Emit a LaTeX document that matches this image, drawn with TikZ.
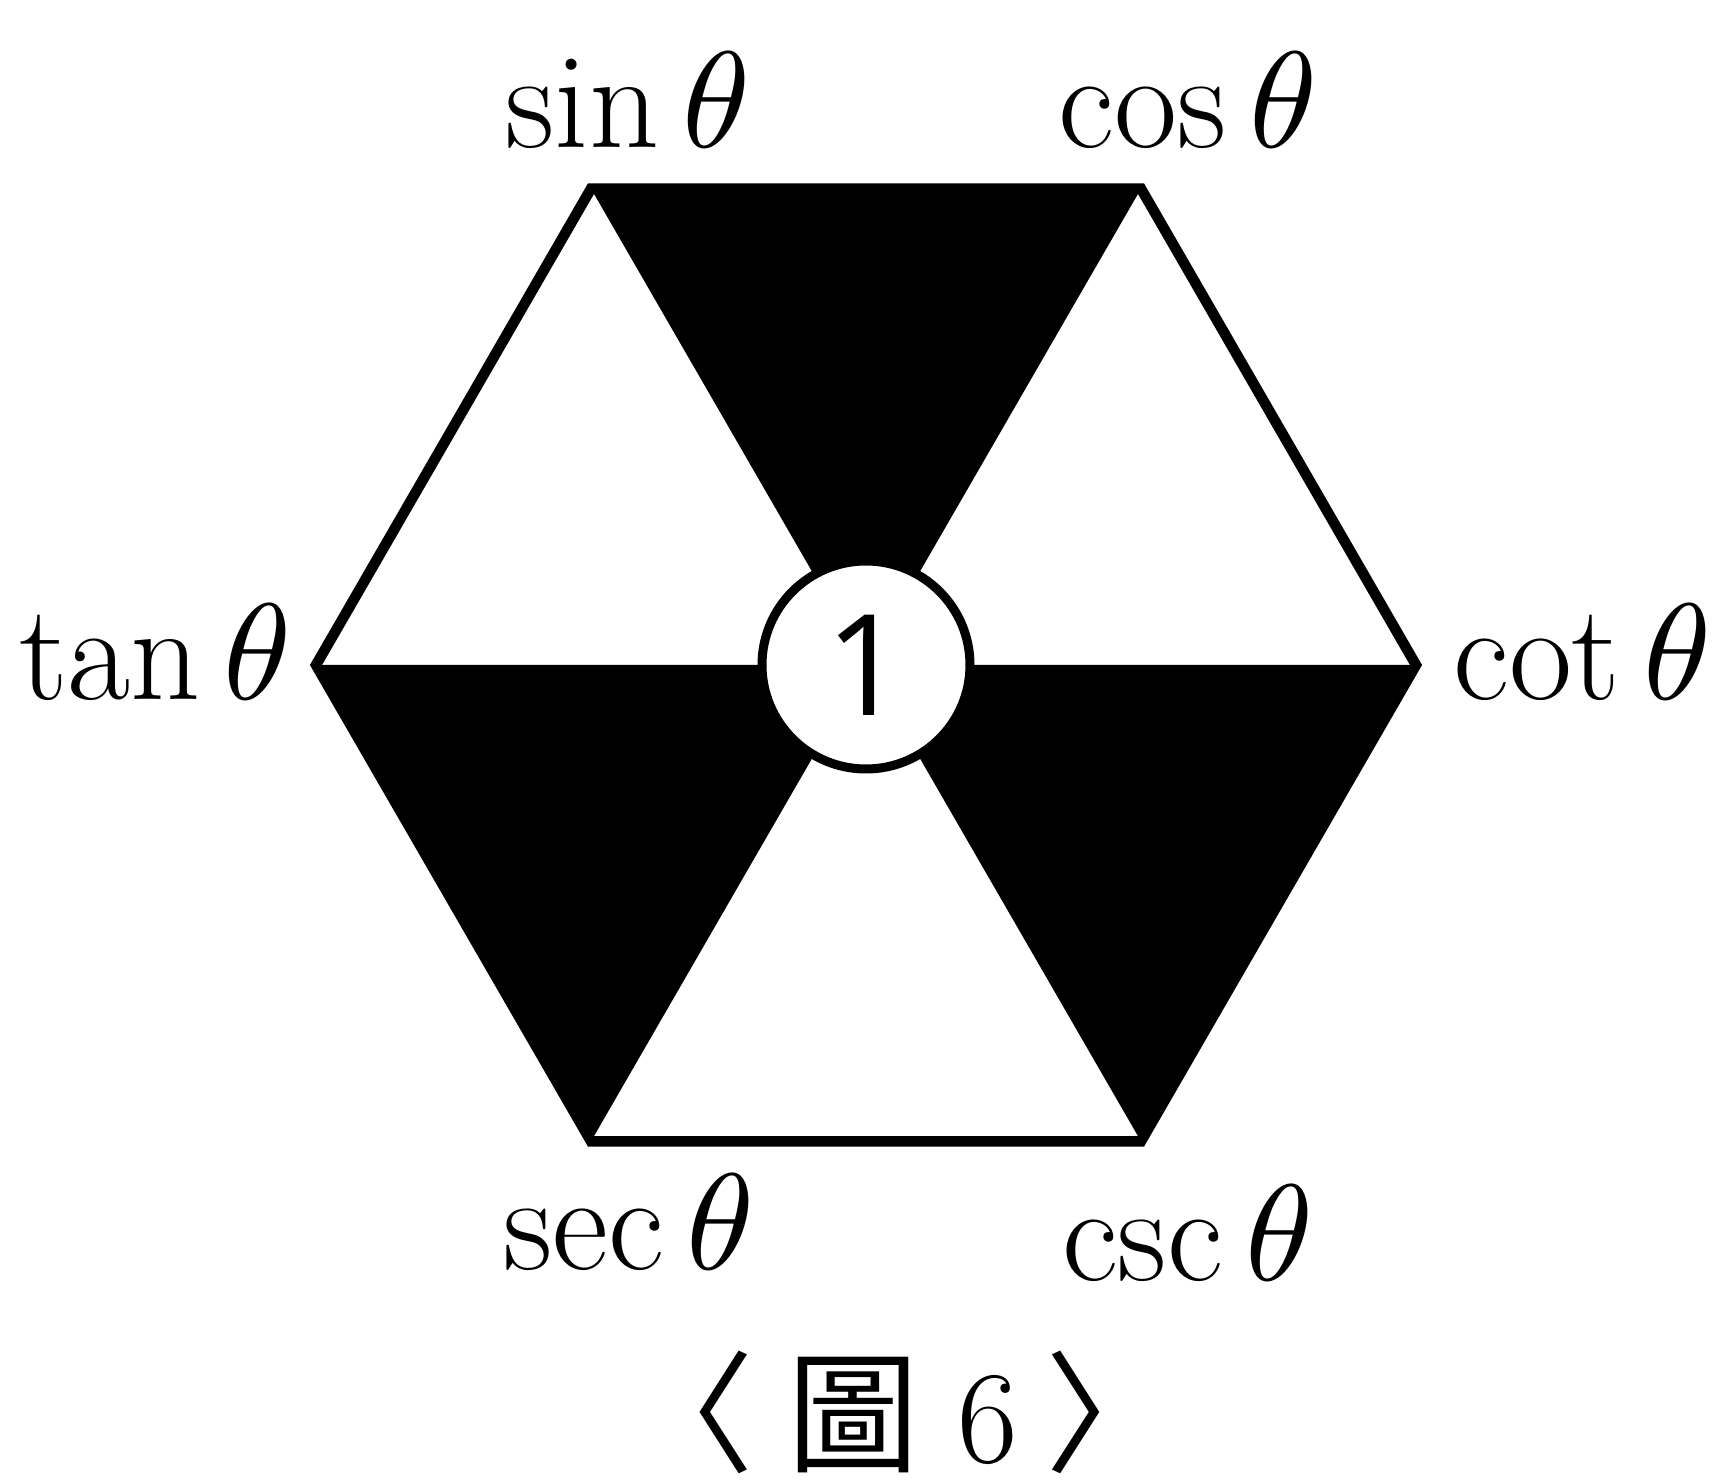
\documentclass[tikz,border=0pt]{standalone}
\usepackage{fontspec}
\usepackage{unicode-math}
\newfontfamily\cjkfont{Noto Sans CJK TC}
\newfontfamily\numfont{Open Sans}
\begin{document}
\begin{tikzpicture}[x=0.2mm,y=0.2mm,
  lbl/.style={font=\fontsize{78}{90}\selectfont, inner sep=0pt}]
  \useasboundingbox (-866,-815) rectangle (849,665);
  \coordinate (o) at (0,0);
  \foreach \a/\n in {0/cot,60/cos,120/sin,180/tan,240/sec,300/csc}
    \coordinate (\n) at (\a:550);
  % black triangles
  \fill (o) -- (sin) -- (cos) -- cycle;
  \fill (o) -- (tan) -- (sec) -- cycle;
  \fill (o) -- (cot) -- (csc) -- cycle;
  \draw[line width=2.1mm] (sin) -- (cos) -- (cot) -- (csc) -- (sec) -- (tan) -- cycle;
  \node[circle, draw, fill=white, line width=1.8mm, minimum size=41.6mm, inner sep=0pt,
    font=\numfont\fontsize{80}{92}\selectfont] (one) at (o) {1};
  \foreach \n/\dx/\dy/\anc in {sin/36/41/base, cos/46/41/base, tan/-26/-35/base east,
      cot/37/-35/base west, sec/37/-128/base, csc/46/-139/base}
    \node[lbl, anchor=\anc] (\n-lbl) at ([shift={(\dx,\dy)}]\n) {$\mathrm{\n}\,\theta$};
  \node[font=\fontsize{75}{86}\selectfont, anchor=base, inner sep=0pt] (cap) at (34,-797)
    {{\cjkfont 〈}\hspace{0.25em}{\cjkfont 圖}\hspace{0.29em}6\hspace{0.21em}{\cjkfont 〉}};
\end{tikzpicture}
\end{document}
